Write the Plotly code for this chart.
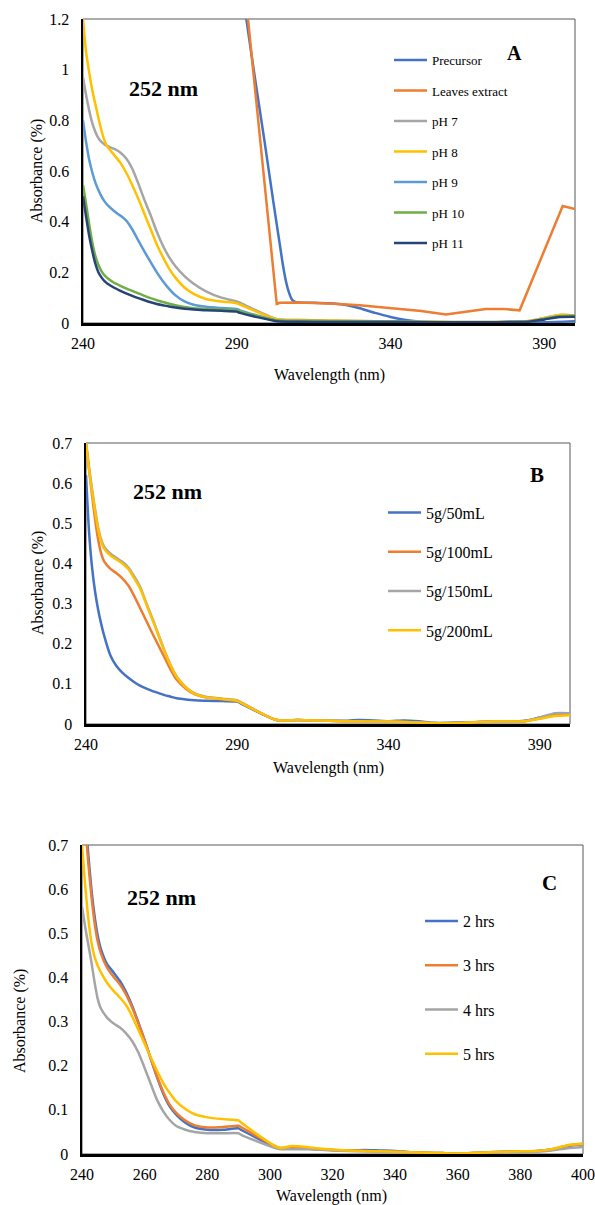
import plotly.graph_objects as go

# ---------------- Panel A data ----------------
xa = [240, 241, 242, 243, 244, 245, 246, 247, 248, 250, 252, 254, 256, 258, 260, 262, 264, 266, 268,
      270, 273, 276, 280, 285, 290, 291, 303, 310, 320, 330, 340, 350, 360, 370, 380, 385, 390, 395, 400]
ph7 = [0.97, 0.90, 0.84, 0.79, 0.755, 0.73, 0.715, 0.705, 0.698, 0.688, 0.674, 0.65, 0.61, 0.55, 0.485,
       0.425, 0.36, 0.305, 0.26, 0.225, 0.185, 0.155, 0.125, 0.10, 0.085, 0.08, 0.015, 0.012, 0.01, 0.008,
       0.006, 0.005, 0.004, 0.004, 0.005, 0.008, 0.02, 0.032, 0.03]
ph8 = [1.2, 1.07, 0.99, 0.92, 0.865, 0.81, 0.76, 0.72, 0.695, 0.665, 0.635, 0.595, 0.545, 0.49, 0.43,
       0.37, 0.31, 0.26, 0.215, 0.18, 0.14, 0.115, 0.095, 0.085, 0.078, 0.073, 0.015, 0.012, 0.01, 0.008,
       0.006, 0.005, 0.004, 0.004, 0.005, 0.008, 0.02, 0.032, 0.03]
ph9 = [0.80, 0.715, 0.645, 0.595, 0.555, 0.525, 0.50, 0.48, 0.465, 0.443, 0.425, 0.405, 0.37, 0.325, 0.282,
       0.24, 0.2, 0.165, 0.135, 0.11, 0.085, 0.072, 0.064, 0.059, 0.055, 0.05, 0.01, 0.008, 0.007, 0.006,
       0.005, 0.004, 0.003, 0.003, 0.004, 0.006, 0.016, 0.027, 0.028]
ph10 = [0.545, 0.47, 0.39, 0.32, 0.265, 0.23, 0.205, 0.188, 0.177, 0.16, 0.148, 0.137, 0.127, 0.117,
        0.107, 0.098, 0.09, 0.083, 0.076, 0.07, 0.063, 0.058, 0.055, 0.053, 0.05, 0.046, 0.01, 0.008,
        0.007, 0.006, 0.005, 0.004, 0.003, 0.003, 0.004, 0.006, 0.016, 0.027, 0.028]
ph11 = [0.50, 0.42, 0.345, 0.285, 0.235, 0.20, 0.18, 0.165, 0.155, 0.14, 0.128, 0.117, 0.107, 0.098,
        0.09, 0.082, 0.075, 0.07, 0.065, 0.061, 0.056, 0.053, 0.05, 0.048, 0.045, 0.04, 0.007, 0.005,
        0.004, 0.004, 0.004, 0.003, 0.003, 0.003, 0.004, 0.005, 0.014, 0.024, 0.025]

x_prec = [240, 290, 293, 296, 299, 302, 304, 305, 306, 307, 308, 309, 310, 315, 320, 325, 330, 335, 340,
          345, 350, 360, 370, 380, 390, 400]
precursor = [3.5, 1.5, 1.21, 0.96, 0.72, 0.47, 0.31, 0.23, 0.165, 0.12, 0.092, 0.083, 0.081, 0.08, 0.078,
             0.072, 0.058, 0.04, 0.024, 0.012, 0.005, 0.002, 0.002, 0.002, 0.003, 0.007]
x_leaf = [240, 290, 303, 304, 310, 320, 330, 340, 350, 358, 365, 371, 377, 382, 396, 400]
leaves = [3.5, 1.64, 0.075, 0.08, 0.081, 0.077, 0.07, 0.059, 0.047, 0.034, 0.045, 0.055, 0.055, 0.05,
          0.462, 0.45]

# ---------------- Panel B data ----------------
xb = [240, 241, 242, 243, 244, 245, 246, 248, 250, 252, 254, 256, 258, 260, 262, 264, 266, 268, 270, 273,
      276, 280, 285, 290, 291, 303, 310, 315, 320, 325, 330, 335, 340, 345, 350, 355, 360, 365, 370, 375,
      380, 385, 390, 395, 400]
g50 = [0.62, 0.48, 0.39, 0.33, 0.285, 0.25, 0.22, 0.172, 0.145, 0.128, 0.115, 0.104, 0.095, 0.088, 0.082,
       0.077, 0.072, 0.068, 0.064, 0.061, 0.059, 0.058, 0.057, 0.056, 0.052, 0.01, 0.01, 0.009, 0.008,
       0.008, 0.01, 0.009, 0.007, 0.009, 0.007, 0.003, 0.003, 0.004, 0.005, 0.006, 0.006, 0.008, 0.016,
       0.024, 0.025]
g100 = [0.70, 0.635, 0.57, 0.51, 0.46, 0.425, 0.405, 0.387, 0.376, 0.363, 0.345, 0.318, 0.287, 0.256, 0.225,
        0.195, 0.165, 0.135, 0.11, 0.088, 0.074, 0.066, 0.062, 0.058, 0.054, 0.01, 0.01, 0.009, 0.008,
        0.007, 0.007, 0.006, 0.006, 0.005, 0.004, 0.002, 0.002, 0.003, 0.005, 0.006, 0.006, 0.007, 0.014,
        0.022, 0.024]
g150 = [0.70, 0.64, 0.585, 0.535, 0.49, 0.46, 0.442, 0.425, 0.414, 0.404, 0.39, 0.367, 0.34, 0.3, 0.262,
        0.222, 0.182, 0.146, 0.118, 0.092, 0.076, 0.067, 0.063, 0.059, 0.055, 0.01, 0.01, 0.009, 0.008,
        0.007, 0.007, 0.006, 0.006, 0.005, 0.004, 0.002, 0.002, 0.003, 0.005, 0.006, 0.006, 0.007, 0.016,
        0.027, 0.027]
g200 = [0.70, 0.635, 0.58, 0.53, 0.485, 0.455, 0.437, 0.42, 0.41, 0.40, 0.386, 0.362, 0.336, 0.297, 0.259,
        0.22, 0.18, 0.145, 0.117, 0.091, 0.075, 0.066, 0.062, 0.058, 0.054, 0.01, 0.01, 0.009, 0.008,
        0.007, 0.007, 0.006, 0.006, 0.005, 0.004, 0.002, 0.002, 0.003, 0.005, 0.006, 0.006, 0.007, 0.013,
        0.02, 0.022]

# ---------------- Panel C data ----------------
xc = [240, 241, 242, 243, 244, 245, 246, 248, 250, 252, 254, 256, 258, 260, 262, 264, 266, 268, 270, 273,
      276, 280, 285, 290, 291, 303, 307, 310, 315, 320, 325, 330, 335, 340, 345, 350, 355, 360, 365, 370,
      375, 380, 385, 390, 395, 400]
h2 = [0.88, 0.77, 0.68, 0.60, 0.54, 0.495, 0.465, 0.43, 0.412, 0.393, 0.368, 0.336, 0.298, 0.258, 0.215,
      0.173, 0.136, 0.108, 0.09, 0.071, 0.06, 0.055, 0.055, 0.058, 0.054, 0.013, 0.013, 0.013, 0.011,
      0.009, 0.008, 0.009, 0.008, 0.007, 0.004, 0.003, 0.002, 0.001, 0.002, 0.004, 0.005, 0.005, 0.006,
      0.01, 0.018, 0.022]
h3 = [0.86, 0.75, 0.66, 0.585, 0.525, 0.482, 0.455, 0.422, 0.402, 0.385, 0.362, 0.332, 0.296, 0.257,
      0.215, 0.175, 0.14, 0.112, 0.094, 0.076, 0.065, 0.06, 0.061, 0.064, 0.06, 0.014, 0.013, 0.013, 0.011,
      0.009, 0.008, 0.007, 0.006, 0.005, 0.004, 0.003, 0.002, 0.001, 0.002, 0.004, 0.005, 0.006, 0.007,
      0.011, 0.019, 0.023]
h4 = [0.56, 0.515, 0.475, 0.435, 0.39, 0.352, 0.33, 0.309, 0.296, 0.287, 0.274, 0.256, 0.23, 0.195, 0.158,
      0.122, 0.096, 0.077, 0.064, 0.055, 0.05, 0.047, 0.047, 0.047, 0.043, 0.011, 0.011, 0.011, 0.01,
      0.008, 0.007, 0.006, 0.005, 0.004, 0.003, 0.002, 0.001, 0.001, 0.002, 0.003, 0.004, 0.004, 0.005,
      0.008, 0.013, 0.016]
h5 = [0.70, 0.61, 0.535, 0.48, 0.447, 0.427, 0.412, 0.388, 0.37, 0.355, 0.338, 0.312, 0.281, 0.25, 0.218,
      0.188, 0.16, 0.138, 0.12, 0.102, 0.09, 0.083, 0.079, 0.076, 0.07, 0.014, 0.018, 0.017, 0.013, 0.01,
      0.008, 0.007, 0.006, 0.005, 0.004, 0.003, 0.002, 0.001, 0.002, 0.004, 0.005, 0.006, 0.007, 0.011,
      0.02, 0.023]

ticks_a = [240, 290, 340, 390]
ticks_c = [240, 260, 280, 300, 320, 340, 360, 380, 400]

BLUE, ORANGE, GRAY, YELLOW = "#4472C4", "#ED7D31", "#A5A5A5", "#FFC000"
LBLUE, GREEN, NAVY = "#5B9BD5", "#70AD47", "#264478"
FONT = "Liberation Serif"
W, H = 595, 1205
LW = 2.5

fig = go.Figure()


def add(x, y, name, color, ax, legend, group, shape="spline"):
    fig.add_trace(go.Scatter(
        x=x, y=y, name=name, mode="lines",
        line=dict(color=color, width=LW, shape=shape, smoothing=0.6 if shape == "spline" else None),
        xaxis="x" + ax, yaxis="y" + ax, legend=legend, legendgroup=group,
        hoverinfo="skip"))


add(x_prec, precursor, "Precursor", BLUE, "", "legend", "a1")
add(x_leaf, leaves, "Leaves extract", ORANGE, "", "legend", "a2", shape="linear")
add(xa, ph7, "pH 7", GRAY, "", "legend", "a3")
add(xa, ph8, "pH 8", YELLOW, "", "legend", "a4")
add(xa, ph9, "pH 9", LBLUE, "", "legend", "a5")
add(xa, ph10, "pH 10", GREEN, "", "legend", "a6")
add(xa, ph11, "pH 11", NAVY, "", "legend", "a7")

add(xb, g50, "5g/50mL", BLUE, "2", "legend2", "b1")
add(xb, g100, "5g/100mL", ORANGE, "2", "legend2", "b2")
add(xb, g150, "5g/150mL", GRAY, "2", "legend2", "b3")
add(xb, g200, "5g/200mL", YELLOW, "2", "legend2", "b4")

add(xc, h2, "2 hrs", BLUE, "3", "legend3", "c1")
add(xc, h3, "3 hrs", ORANGE, "3", "legend3", "c2")
add(xc, h4, "4 hrs", GRAY, "3", "legend3", "c3")
add(xc, h5, "5 hrs", YELLOW, "3", "legend3", "c4")


def px_x(p):
    return p / W


def px_y(p):
    return 1 - p / H


tickfont = dict(family=FONT, size=16, color="black")


def xaxis(l, r, anchor, tickvals):
    return dict(domain=[px_x(l), px_x(r)], anchor=anchor, range=[240, 400], tickvals=tickvals,
                showgrid=False, zeroline=False, showline=True, linecolor="black", linewidth=2.5,
                ticks="", tickfont=tickfont, ticklabelstandoff=4, fixedrange=True, automargin=False)


def yaxis(b, t, anchor, rng, dtick):
    return dict(domain=[px_y(b), px_y(t)], anchor=anchor, range=rng, dtick=dtick, tick0=0,
                showgrid=False, zeroline=False, showline=True, linecolor="black", linewidth=2.5,
                ticks="", tickfont=tickfont, ticklabelstandoff=8, fixedrange=True, automargin=False)


legfont13 = dict(family=FONT, size=13, color="black")
legfont16 = dict(family=FONT, size=16, color="black")

fig.update_layout(
    template="none",
    width=W, height=H, margin=dict(l=0, r=0, t=0, b=0, pad=0, autoexpand=False),
    paper_bgcolor="white", plot_bgcolor="white",
    font=dict(family=FONT, color="black"),
    xaxis=xaxis(83, 575, "y", ticks_a),
    yaxis=yaxis(323, 19, "x", [0, 1.2], 0.2),
    xaxis2=xaxis(86, 570, "y2", ticks_a),
    yaxis2=yaxis(724, 443, "x2", [0, 0.7], 0.1),
    xaxis3=xaxis(82, 583, "y3", ticks_c),
    yaxis3=yaxis(1154, 845, "x3", [0, 0.7], 0.1),
    legend=dict(x=px_x(389), y=px_y(45), xanchor="left", yanchor="top", font=legfont13,
                bgcolor="rgba(0,0,0,0)", borderwidth=0, tracegroupgap=10.6, itemwidth=33),
    legend2=dict(x=px_x(383), y=px_y(495.5), xanchor="left", yanchor="top", font=legfont16,
                 bgcolor="rgba(0,0,0,0)", borderwidth=0, tracegroupgap=15.5, itemwidth=33),
    legend3=dict(x=px_x(420), y=px_y(904), xanchor="left", yanchor="top", font=legfont16,
                 bgcolor="rgba(0,0,0,0)", borderwidth=0, tracegroupgap=20.5, itemwidth=33),
    showlegend=True,
)

# thin frame on top/right
for ax in ["", "2", "3"]:
    fig.add_shape(type="rect", xref="x" + ax + " domain", yref="y" + ax + " domain",
                  x0=0, x1=1, y0=0, y1=1, line=dict(color="#595959", width=1), layer="below")

ann = []
lab = dict(family=FONT, size=22, color="black")
for (cx, cy) in [(163, 89), (167, 491), (161, 897)]:
    ann.append(dict(text="<b>252 nm</b>", x=px_x(cx), y=px_y(cy), xref="paper", yref="paper",
                    showarrow=False, font=lab, xanchor="center", yanchor="middle"))
for (t, cx, cy, s) in [("A", 514, 53, 20), ("B", 537, 475, 21), ("C", 549, 883, 21)]:
    ann.append(dict(text="<b>%s</b>" % t, x=px_x(cx), y=px_y(cy), xref="paper", yref="paper",
                    showarrow=False, font=dict(family=FONT, size=s, color="black"),
                    xanchor="center", yanchor="middle"))
tf = dict(family=FONT, size=16, color="black")
for (cx, cy) in [(37, 171), (38, 583), (20, 1021)]:
    ann.append(dict(text="Absorbance (%)", x=px_x(cx), y=px_y(cy), xref="paper", yref="paper",
                    showarrow=False, font=tf, textangle=-90, xanchor="center", yanchor="middle"))
for (cx, cy) in [(329, 375), (328, 768), (331, 1196)]:
    ann.append(dict(text="Wavelength (nm)", x=px_x(cx), y=px_y(cy), xref="paper", yref="paper",
                    showarrow=False, font=tf, xanchor="center", yanchor="middle"))
fig.update_layout(annotations=ann)

fig.write_html("out.html", config={"displayModeBar": False, "staticPlot": True},
               post_script="document.body.style.margin='0';document.body.style.padding='0';"
                           "document.body.style.overflow='hidden';")
